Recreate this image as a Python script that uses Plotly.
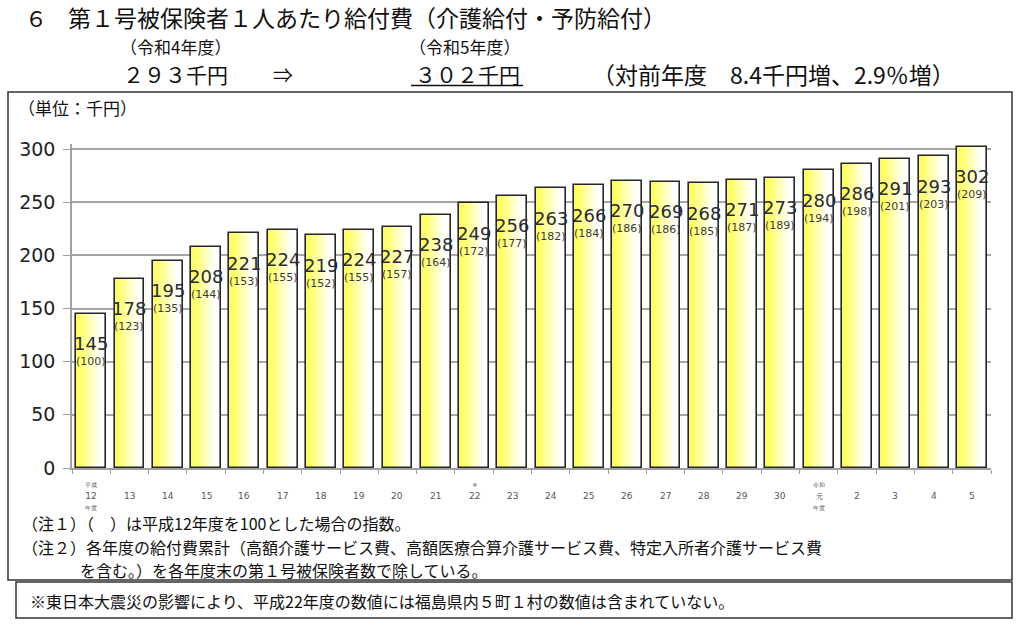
import plotly.graph_objects as go

# ---------------- data ----------------
years = ["H12", "H13", "H14", "H15", "H16", "H17", "H18", "H19", "H20", "H21",
         "H22", "H23", "H24", "H25", "H26", "H27", "H28", "H29", "H30",
         "R1", "R2", "R3", "R4", "R5"]
tick_labels = ["<span style='font-size:6px'>平成</span><br>12<br><span style='font-size:6px'>年度</span>",
               "13", "14", "15", "16", "17", "18", "19", "20", "21",
               "<span style='font-size:6px'>※</span><br>22<br> ",
               "23", "24", "25", "26", "27", "28", "29", "30",
               "<span style='font-size:6px'>令和</span><br><span style='font-size:7px'>元</span><br><span style='font-size:6px'>年度</span>",
               "2", "3", "4", "5"]
benefit = [145, 178, 195, 208, 221, 224, 219, 224, 227, 238,
           249, 256, 263, 266, 270, 269, 268, 271, 273,
           280, 286, 291, 293, 302]
index_h12 = [100, 123, 135, 144, 153, 155, 152, 155, 157, 164,
             172, 177, 182, 184, 186, 186, 185, 187, 189,
             194, 198, 201, 203, 209]
y_ticks = [0, 50, 100, 150, 200, 250, 300]

# ---------------- layout helpers ----------------
PL, PR, PT, PB = 72, 991, 144, 468
W, H = 1024, 625


def px(x):
    return (x - PL) / (PR - PL)


def py(y):
    return (PB - y) / (PB - PT)


JP = "Noto Sans CJK JP"
NUM = "DejaVu Sans"

fig = go.Figure()

# gradient bars built from overlapping slices
BW = 0.78
N = 14
y0 = (255, 255, 85)
for i in range(N):
    t = min(1.0, i / (N - 1) / 0.8)
    c = tuple(round(y0[k] + (255 - y0[k]) * t) for k in range(3))
    sw = BW / N
    fig.add_trace(go.Bar(
        x=years, y=benefit, width=sw * 1.6 if i < N - 1 else sw,
        offset=-BW / 2 + i * sw,
        marker=dict(color="rgb(%d,%d,%d)" % c, line=dict(width=0)),
        hoverinfo="skip", showlegend=False))

# outline
fig.add_trace(go.Bar(
    x=years, y=benefit, width=BW, offset=-BW / 2,
    marker=dict(color="rgba(0,0,0,0)", line=dict(color="#262626", width=1.6)),
    showlegend=False, hovertemplate="%{x}: %{y}千円<extra></extra>"))

annotations = []
# value labels
for xv, v, idx in zip(years, benefit, index_h12):
    annotations.append(dict(x=xv, y=v, xref="x", yref="y", text=str(v),
                            showarrow=False, yanchor="middle", yshift=-30,
                            font=dict(family=NUM, size=18, color="#2b2b33")))
    annotations.append(dict(x=xv, y=v, xref="x", yref="y", text="(%d)" % idx,
                            showarrow=False, yanchor="middle", yshift=-48,
                            font=dict(family=NUM, size=11, color="#3a3a3a")))
# category labels
for xv, lab in zip(years, tick_labels):
    annotations.append(dict(x=xv, y=py(496), xref="x", yref="paper", text=lab,
                            showarrow=False, yanchor="middle",
                            font=dict(family=NUM, size=9, color="#555555")))


def txt(x, y, s, size, anchor="left", color="#111111", family=JP):
    annotations.append(dict(x=px(x), y=py(y), xref="paper", yref="paper",
                            text=s, showarrow=False, xanchor=anchor,
                            yanchor="middle",
                            font=dict(family=family, size=size, color=color)))


# heading
txt(23, 17.5, "６", 22)
txt(66, 17.5, "第１号被保険者１人あたり給付費（介護給付・予防給付）", 23)
txt(175, 46.5, "（令和4年度）", 17, "center")
txt(464, 46.5, "（令和5年度）", 17, "center")
txt(175, 74.3, "２９３千円", 21, "center")
txt(283, 74.3, "⇒", 20, "center")
txt(467, 74.3, "３０２千円", 21, "center")
txt(590, 74.3, "（対前年度　8.4千円増、2.9％増）", 23)
# unit
txt(16, 108, "（単位：千円）", 17)
# notes
txt(20, 523, "（注１）（　）は平成12年度を100とした場合の指数。", 16)
txt(20, 546.5, "（注２）各年度の給付費累計（高額介護サービス費、高額医療合算介護サービス費、特定入所者介護サービス費", 16)
txt(78, 570, "を含む。）を各年度末の第１号被保険者数で除している。", 16)
txt(28, 601, "※東日本大震災の影響により、平成22年度の数値には福島県内５町１村の数値は含まれていない。", 16)

shapes = [
    # underline of 302千円
    dict(type="line", xref="paper", yref="paper", x0=px(411), x1=px(523),
         y0=py(85.5), y1=py(85.5), line=dict(color="#111111", width=1.5)),
    # outer chart box
    dict(type="rect", xref="paper", yref="paper", x0=px(8), x1=px(1012),
         y0=py(92), y1=py(580), line=dict(color="#333333", width=1.5)),
    # footnote box
    dict(type="rect", xref="paper", yref="paper", x0=px(16), x1=px(1012),
         y0=py(582), y1=py(618), line=dict(color="#333333", width=1.5)),
]

fig.update_layout(
    width=W, height=H,
    margin=dict(l=PL, r=W - PR, t=PT, b=H - PB, pad=0),
    paper_bgcolor="white", plot_bgcolor="white",
    barmode="overlay", bargap=0,
    annotations=annotations, shapes=shapes,
    showlegend=False,
    xaxis=dict(type="category", range=[-0.5, len(years) - 0.5],
               showticklabels=False, showgrid=False, zeroline=False,
               showline=True, linecolor="#a0a0a0", linewidth=1.5,
               ticks="outside", tickson="boundaries", ticklen=4,
               tickcolor="#a0a0a0", fixedrange=True),
    yaxis=dict(range=[0, 304.7], tickvals=y_ticks, ticktext=[str(v) for v in y_ticks],
               showgrid=True, gridcolor="#a6a6a6", gridwidth=1.5,
               zeroline=False, showline=True, linecolor="#a0a0a0", linewidth=1.5,
               ticks="outside", ticklen=7, tickcolor="#a0a0a0",
               ticklabelstandoff=4,
               tickfont=dict(family=NUM, size=19, color="#222222"),
               fixedrange=True),
)

fig.write_html("out.html")
